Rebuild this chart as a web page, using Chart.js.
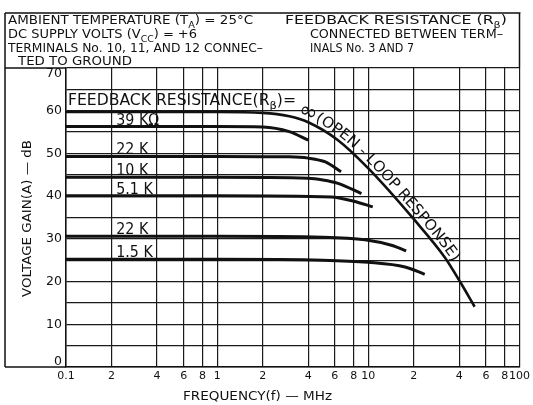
<!DOCTYPE html>
<html>
<head>
<meta charset="utf-8">
<script src="https://cdn.jsdelivr.net/npm/chart.js@4.4.0/dist/chart.umd.min.js"></script>
<style>
  html, body { margin: 0; padding: 0; background: #fff; }
</style>
</head>
<body>
<canvas id="gainChart" width="533" height="405"></canvas>
<script>
// tick positions / labels
const freqTicks = [0.1, 0.2, 0.4, 0.6, 0.8, 1, 2, 4, 6, 8, 10, 20, 40, 60, 80, 100];
const freqTickLabels = ['0.1', '2', '4', '6', '8', '1', '2', '4', '6', '8', '10', '2', '4', '6', '8', '100'];
const gainTicks = [0, 5, 10, 15, 20, 25, 30, 35, 40, 45, 50, 55, 60, 65, 70];
const gainTickLabels = ['0', '', '10', '', '20', '', '30', '', '40', '', '50', '', '60', '', '70'];

// curves: [frequency MHz, gain dB]
const openLoop = [[0.1, 59.7], [1, 59.7], [2, 59.5], [3, 58.7], [4, 57.3], [6.3, 53.1], [10, 46.5], [20, 34.6], [32, 25.7], [41, 19.6], [50.5, 14.1]];
const rb39k = [[0.1, 56.3], [1, 56.3], [2, 56.2], [3, 55.1], [4, 53.1]];
const rb22kHigh = [[0.1, 49.3], [1, 49.3], [3, 49.2], [4, 48.9], [5.2, 48.0], [6.6, 45.7]];
const rb10k = [[0.1, 44.4], [1, 44.4], [4, 44.2], [5, 43.8], [6.3, 43.0], [9, 40.6]];
const rb5k1 = [[0.1, 40.1], [1, 40.1], [5.7, 39.8], [8, 38.8], [10.7, 37.5]];
const rb22kLow = [[0.1, 30.6], [1, 30.6], [5, 30.4], [9.5, 29.8], [14.2, 28.5], [17.8, 27.2]];
const rb1k5 = [[0.1, 25.2], [1, 25.2], [5, 25.0], [10, 24.5], [17.5, 23.4], [23.6, 21.7]];

const curves = [openLoop, rb39k, rb22kHigh, rb10k, rb5k1, rb22kLow, rb1k5];
const curveLabels = ['', '39 K\u03A9', '22 K', '10 K', '5.1 K', '22 K', '1.5 K'];

const INK = '#111';
const FONT = 'DejaVu Sans';

// draw text made of runs [text, isSubscript], squeezed/stretched by sx
function drawRuns(ctx, runs, x, y, size, sx) {
  ctx.save();
  ctx.translate(x, y);
  ctx.scale(sx, 1);
  let cx = 0;
  runs.forEach(r => {
    const sub = r[1];
    ctx.font = (sub ? Math.round(size * 0.72) : size) + 'px "' + FONT + '"';
    ctx.fillText(r[0], cx, sub ? size * 0.28 : 0);
    cx += ctx.measureText(r[0]).width;
  });
  ctx.restore();
}
function runsWidth(ctx, runs, size) {
  let w = 0;
  runs.forEach(r => {
    ctx.font = (r[1] ? Math.round(size * 0.72) : size) + 'px "' + FONT + '"';
    w += ctx.measureText(r[0]).width;
  });
  return w;
}
// fit runs to a given width
function fitRuns(ctx, runs, x, y, size, width) {
  drawRuns(ctx, runs, x, y, size, width / runsWidth(ctx, runs, size));
}

// sample the drawn bezier of a dataset
function samplePath(meta) {
  const pts = meta.data;
  const out = [{x: pts[0].x, y: pts[0].y}];
  for (let i = 1; i < pts.length; i++) {
    const a = pts[i - 1], b = pts[i];
    const c1x = a.cp2x ?? a.x, c1y = a.cp2y ?? a.y;
    const c2x = b.cp1x ?? b.x, c2y = b.cp1y ?? b.y;
    for (let k = 1; k <= 24; k++) {
      const t = k / 24, u = 1 - t;
      out.push({
        x: u*u*u*a.x + 3*u*u*t*c1x + 3*u*t*t*c2x + t*t*t*b.x,
        y: u*u*u*a.y + 3*u*u*t*c1y + 3*u*t*t*c2y + t*t*t*b.y
      });
    }
  }
  return out;
}

const paperPlugin = {
  id: 'paper',
  beforeDraw(chart) {
    const ctx = chart.ctx;
    ctx.save();
    ctx.fillStyle = '#fff';
    ctx.fillRect(0, 0, chart.width, chart.height);
    ctx.restore();
  },
  afterDatasetsDraw(chart) {
    const ctx = chart.ctx;
    const xs = chart.scales.x, ys = chart.scales.y;
    const area = chart.chartArea;
    ctx.save();
    ctx.fillStyle = INK;
    ctx.strokeStyle = INK;

    // frame around header and axis block
    ctx.lineWidth = 1.5;
    ctx.beginPath();
    ctx.moveTo(5, 13); ctx.lineTo(area.right + 1, 13);
    ctx.moveTo(area.right, 13); ctx.lineTo(area.right, area.top);
    ctx.moveTo(5, 13); ctx.lineTo(5, area.bottom);
    ctx.moveTo(5, area.bottom); ctx.lineTo(area.left, area.bottom);
    ctx.moveTo(5, area.top); ctx.lineTo(area.left, area.top);
    ctx.stroke();

    // header notes
    ctx.textBaseline = 'alphabetic';
    const hs = 12.5;
    fitRuns(ctx, [['AMBIENT TEMPERATURE (T'], ['A', 1], [') = 25\u00B0C']], 8, 24, hs, 245);
    fitRuns(ctx, [['DC SUPPLY VOLTS (V'], ['CC', 1], [') = +6']], 8, 38, hs, 189);
    fitRuns(ctx, [['TERMINALS No. 10, 11, AND 12 CONNEC\u2013']], 8, 52, hs, 255);
    fitRuns(ctx, [['TED TO GROUND']], 18, 65, hs, 114);
    fitRuns(ctx, [['FEEDBACK RESISTANCE (R'], ['\u03B2', 1], [')']], 285, 24, hs, 222);
    fitRuns(ctx, [['CONNECTED BETWEEN TERM\u2013']], 310, 38, hs, 193);
    fitRuns(ctx, [['INALS No. 3 AND 7']], 310, 52, hs, 104);

    // axis titles
    fitRuns(ctx, [['FREQUENCY(f) \u2014 MHz']], 183, 400, 12.5, 149);
    ctx.save();
    ctx.translate(31, 297);
    ctx.rotate(-Math.PI / 2);
    fitRuns(ctx, [['VOLTAGE GAIN(A) \u2014 dB']], 0, 0, 12.5, 157);
    ctx.restore();

    // y tick labels (end labels nudged inside the frame as on the sheet)
    ctx.font = '12.5px "' + FONT + '"';
    ctx.textAlign = 'right';
    ctx.textBaseline = 'middle';
    gainTicks.forEach((v, i) => {
      if (!gainTickLabels[i]) return;
      let py = ys.getPixelForValue(v);
      if (v === ys.max) py += 6;
      if (v === ys.min) py -= 5;
      ctx.fillText(gainTickLabels[i], area.left - 4, py);
    });
    ctx.textAlign = 'left';
    ctx.textBaseline = 'alphabetic';

    // curve labels
    const ls = 15;
    curves.forEach((c, i) => {
      if (!curveLabels[i]) return;
      const px = xs.getPixelForValue(0.215);
      const py = ys.getPixelForValue(c[0][1]) - 2;
      drawRuns(ctx, [[curveLabels[i]]], px, py, ls, 0.95);
    });

    // open-loop label: horizontal part
    fitRuns(ctx, [['FEEDBACK RESISTANCE(R'], ['\u03B2', 1], [')=']], 68, 105, ls, 228);

    // open-loop label: along the curve
    const path = samplePath(chart.getDatasetMeta(0));
    const off = 4;
    const opath = [];
    for (let i = 0; i < path.length; i++) {
      const a = path[Math.max(0, i - 1)], b = path[Math.min(path.length - 1, i + 1)];
      let dx = b.x - a.x, dy = b.y - a.y;
      const len = Math.hypot(dx, dy) || 1;
      dx /= len; dy /= len;
      opath.push({x: path[i].x + dy * off, y: path[i].y - dx * off, ang: Math.atan2(dy, dx), cx: path[i].x});
    }
    const cum = [0];
    for (let i = 1; i < opath.length; i++) {
      cum.push(cum[i - 1] + Math.hypot(opath[i].x - opath[i - 1].x, opath[i].y - opath[i - 1].y));
    }
    const sAt = cx => {
      for (let i = 1; i < opath.length; i++) if (opath[i].cx >= cx) return cum[i];
      return cum[cum.length - 1];
    };
    const pointAt = s => {
      let i = 1;
      while (i < cum.length - 1 && cum[i] < s) i++;
      const t = (s - cum[i - 1]) / ((cum[i] - cum[i - 1]) || 1);
      const a = opath[i - 1], b = opath[i];
      return {x: a.x + (b.x - a.x) * t, y: a.y + (b.y - a.y) * t, ang: a.ang + (b.ang - a.ang) * t};
    };
    const arcChars = ['\u221E', '(', 'O', 'P', 'E', 'N', ' ', '-', ' ', 'L', 'O', 'O', 'P', ' ', 'R', 'E', 'S', 'P', 'O', 'N', 'S', 'E', ')'];
    const sizeOf = ch => (ch === '\u221E' ? 22 : 15);
    let natural = 0;
    arcChars.forEach(ch => {
      ctx.font = sizeOf(ch) + 'px "' + FONT + '"';
      natural += ctx.measureText(ch).width;
    });
    const s0 = sAt(296), s1 = sAt(449);
    const k = (s1 - s0) / natural;
    let cursor = s0;
    arcChars.forEach(ch => {
      ctx.font = sizeOf(ch) + 'px "' + FONT + '"';
      const w = ctx.measureText(ch).width * k;
      const p = pointAt(cursor + w / 2);
      ctx.save();
      ctx.translate(p.x, p.y);
      ctx.rotate(p.ang);
      ctx.scale(k, 1);
      ctx.fillText(ch, -w / (2 * k), ch === '\u221E' ? 1 : 0);
      ctx.restore();
      cursor += w;
    });
    ctx.restore();
  }
};

const ctx = document.getElementById('gainChart').getContext('2d');
new Chart(ctx, {
  type: 'line',
  data: {
    datasets: curves.map((c, i) => ({
      label: curveLabels[i] || 'open loop',
      data: c.map(p => ({x: p[0], y: p[1]})),
      borderColor: INK,
      borderWidth: i === 0 ? 2.6 : 3,
      pointRadius: 0,
      fill: false,
      cubicInterpolationMode: 'monotone'
    }))
  },
  options: {
    responsive: false,
    animation: false,
    events: [],
    layout: { padding: { top: 68, right: 11, left: 0, bottom: 0 } },
    plugins: { legend: { display: false }, tooltip: { enabled: false } },
    scales: {
      x: {
        type: 'logarithmic',
        min: 0.1,
        max: 100,
        afterBuildTicks: s => { s.ticks = freqTicks.map(v => ({value: v})); },
        afterFit: s => { s.height = 38; },
        grid: { color: '#1a1a1a', lineWidth: 1.2, drawTicks: false },
        border: { display: true, color: INK, width: 1.5 },
        ticks: {
          autoSkip: false, maxRotation: 0, padding: 3,
          color: INK, font: { family: FONT, size: 11 },
          callback: (v, i) => freqTickLabels[i]
        }
      },
      y: {
        type: 'linear',
        min: 0,
        max: 70,
        afterBuildTicks: s => { s.ticks = gainTicks.map(v => ({value: v})); },
        afterFit: s => { s.width = 66; },
        grid: { color: '#1a1a1a', lineWidth: 1.2, drawTicks: false },
        border: { display: true, color: INK, width: 1.5 },
        ticks: { display: false }
      }
    }
  },
  plugins: [paperPlugin]
});
</script>
</body>
</html>
